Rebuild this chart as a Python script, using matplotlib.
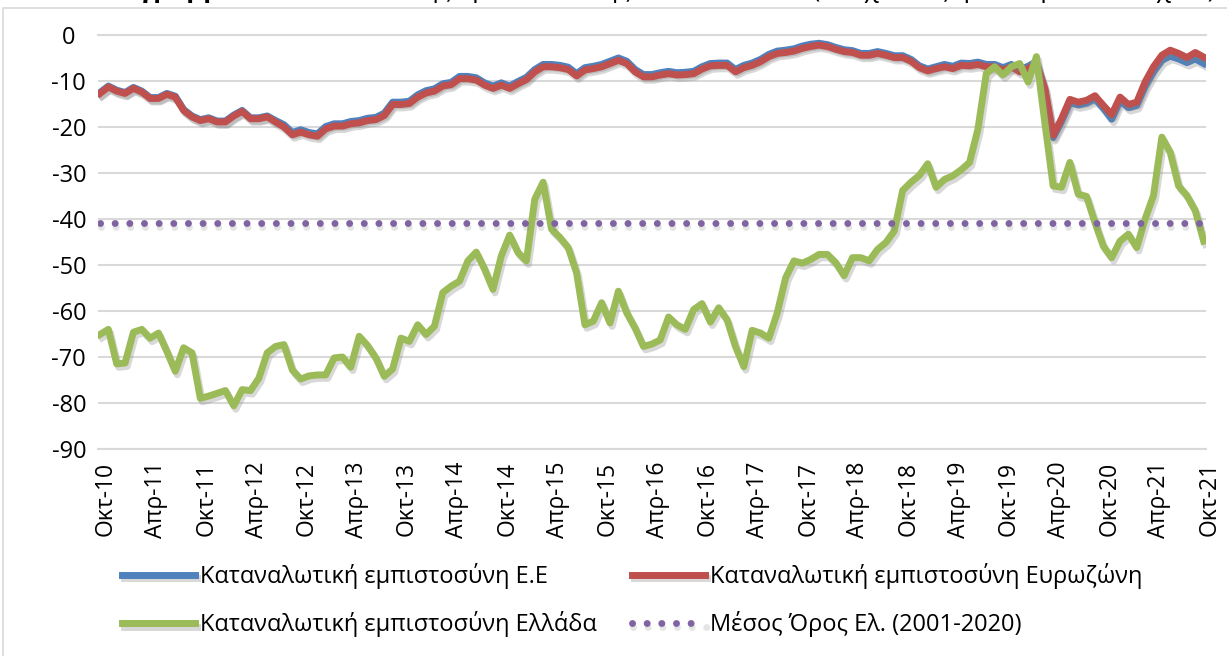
import matplotlib
matplotlib.use("Agg")
import matplotlib.pyplot as plt
import matplotlib.patheffects as pe
import matplotlib.transforms as mtrans
from matplotlib.patches import Rectangle
import numpy as np

plt.rcParams['font.family'] = ['Open Sans', 'DejaVu Sans']

# monthly values, Oct-2010 .. Oct-2021
eu = [
    -12.5, -11.1, -12.0, -12.5, -11.4, -12.2, -13.6, -13.6, -12.7, -13.3, -16.2, -17.6,
    -18.4, -18.0, -18.7, -18.7, -17.4, -16.4, -18.0, -18.0, -17.6, -18.6, -19.5, -21.2,
    -20.6, -21.2, -21.5, -19.9, -19.3, -19.3, -18.8, -18.6, -18.1, -17.9, -17.0, -14.6,
    -14.6, -14.4, -13.0, -12.1, -11.7, -10.6, -10.3, -9.0, -9.0, -9.3, -10.4, -11.1,
    -10.4, -11.1, -10.1, -9.2, -7.5, -6.4, -6.4, -6.6, -7.0, -8.4, -7.1, -6.8,
    -6.4, -5.7, -5.0, -5.7, -7.5, -8.6, -8.6, -8.2, -7.9, -8.2, -8.1, -7.9,
    -6.9, -6.2, -6.1, -6.1, -7.5, -6.6, -6.1, -5.3, -4.2, -3.5, -3.3, -3.0,
    -2.4, -2.0, -1.8, -2.1, -2.7, -3.2, -3.4, -4.0, -4.0, -3.6, -4.0, -4.5,
    -4.5, -5.3, -6.7, -7.4, -6.9, -6.4, -6.8, -6.1, -6.2, -5.9, -6.4, -6.4,
    -7.1, -6.4, -7.5, -6.8, -5.8, -11.9, -22.3, -18.8, -14.7, -15.2, -14.8, -13.9,
    -15.9, -18.3, -14.3, -15.8, -15.3, -11.2, -8.0, -5.5, -4.6, -5.2, -6.0, -5.2, -6.2,
]
eurozone = [
    -12.7, -11.3, -12.2, -12.7, -11.6, -12.4, -13.8, -13.8, -12.9, -13.5, -16.4, -17.8,
    -18.6, -18.2, -18.9, -18.9, -17.6, -16.6, -18.2, -18.2, -17.8, -18.9, -20.0, -21.7,
    -21.1, -21.7, -22.0, -20.4, -19.8, -19.8, -19.3, -19.1, -18.6, -18.4, -17.5, -15.1,
    -15.1, -14.9, -13.5, -12.6, -12.2, -11.1, -10.8, -9.5, -9.5, -9.8, -10.9, -11.6,
    -10.9, -11.6, -10.6, -9.7, -8.0, -6.9, -6.9, -7.1, -7.5, -8.9, -7.6, -7.3,
    -6.9, -6.2, -5.5, -6.2, -8.0, -9.1, -9.1, -8.7, -8.4, -8.7, -8.6, -8.4,
    -7.4, -6.7, -6.6, -6.6, -8.0, -7.1, -6.6, -5.8, -4.7, -4.0, -3.8, -3.5,
    -2.9, -2.5, -2.2, -2.5, -3.1, -3.6, -3.8, -4.4, -4.4, -4.0, -4.4, -4.9,
    -4.9, -5.7, -7.1, -7.8, -7.3, -6.9, -7.3, -6.6, -6.7, -6.4, -6.9, -6.9,
    -7.6, -6.9, -8.0, -7.3, -6.2, -11.6, -21.8, -18.2, -14.0, -14.6, -14.2, -13.2,
    -15.3, -17.3, -13.5, -15.1, -14.6, -10.2, -6.9, -4.4, -3.3, -4.0, -4.9, -3.8, -4.8,
]
greece = [
    -65.1, -64.0, -71.5, -71.3, -64.6, -64.0, -65.9, -64.8, -68.8, -73.1, -68.0, -69.1,
    -79.0, -78.5, -77.9, -77.3, -80.6, -77.1, -77.3, -74.6, -69.1, -67.7, -67.3, -72.8,
    -74.8, -74.1, -73.9, -73.9, -70.2, -70.0, -72.2, -65.5, -67.5, -70.2, -74.2, -72.6,
    -65.9, -66.6, -63.0, -65.1, -63.3, -56.0, -54.6, -53.5, -49.1, -47.2, -50.9, -55.3,
    -48.0, -43.5, -47.3, -49.1, -35.7, -32.0, -42.2, -44.0, -46.2, -51.7, -63.0, -62.2,
    -58.2, -62.6, -55.7, -60.4, -63.7, -67.7, -67.2, -66.3, -61.3, -63.0, -64.0, -59.7,
    -58.4, -62.4, -59.3, -61.9, -67.7, -72.1, -64.2, -64.8, -65.9, -60.4, -52.8, -49.1,
    -49.6, -48.8, -47.7, -47.7, -49.5, -52.3, -48.4, -48.4, -49.1, -46.6, -45.1, -42.6,
    -33.8, -32.0, -30.5, -28.0, -33.1, -31.4, -30.6, -29.3, -27.7, -20.5, -8.4, -6.9,
    -8.7, -6.9, -6.2, -10.2, -4.7, -19.0, -32.8, -33.1, -27.7, -34.6, -35.1, -40.8,
    -45.9, -48.4, -44.8, -43.3, -46.2, -40.0, -34.9, -22.2, -25.5, -32.8, -34.9, -38.2, -44.8,
]
greece_mean = -40.9  # Μέσος Όρος Ελ. (2001-2020)

tick_labels = [
    "Οκτ-10", "Απρ-11", "Οκτ-11", "Απρ-12", "Οκτ-12", "Απρ-13", "Οκτ-13", "Απρ-14",
    "Οκτ-14", "Απρ-15", "Οκτ-15", "Απρ-16", "Οκτ-16", "Απρ-17", "Οκτ-17", "Απρ-18",
    "Οκτ-18", "Απρ-19", "Οκτ-19", "Απρ-20", "Οκτ-20", "Απρ-21", "Οκτ-21",
]
labels = [
    "Καταναλωτική εμπιστοσύνη Ε.Ε",
    "Καταναλωτική εμπιστοσύνη Ευρωζώνη",
    "Καταναλωτική εμπιστοσύνη Ελλάδα",
    "Μέσος Όρος Ελ. (2001-2020)",
]

W, H = 1227, 656
fig = plt.figure(figsize=(W / 100, H / 100), dpi=100)
ax = fig.add_axes([98 / W, 1 - 449 / H, (1206 - 98) / W, (449 - 35) / H])

x = np.arange(len(greece))
shadow = [pe.SimpleLineShadow(offset=(1.5, -2.5), shadow_color='0.5', alpha=0.3), pe.Normal()]
dot_shadow = [pe.SimpleLineShadow(offset=(1.0, -2.5), shadow_color='0.5', alpha=0.2), pe.Normal()]

l_eu, = ax.plot(x, eu, color='#4F81BD', lw=5, solid_joinstyle='round', path_effects=shadow)
l_ez, = ax.plot(x, eurozone, color='#C0504D', lw=5, solid_joinstyle='round', path_effects=shadow)
l_gr, = ax.plot(x, greece, color='#9BBB59', lw=5, solid_joinstyle='round', path_effects=shadow)
l_mn, = ax.plot(x, [greece_mean] * len(x), color='#8064A2', lw=5, linestyle=(0, (0.01, 2.1)),
                dash_capstyle='round', path_effects=dot_shadow)

ax.set_xlim(-0.24, 132.28)
ax.set_ylim(-90, 0)
ax.set_yticks(np.arange(-90, 1, 10))
ax.set_yticklabels([str(v) for v in range(-90, 1, 10)], ha='center')
ax.set_xticks(np.arange(0, len(x), 6))
ax.set_xticklabels(tick_labels, rotation=90)
ax.tick_params(axis='y', length=0, pad=21, labelsize=17)
ax.tick_params(axis='x', length=0, pad=9, labelsize=16.5)
shift = mtrans.ScaledTranslation(6 / 100, 0, fig.dpi_scale_trans)
for lab in ax.get_xticklabels():
    lab.set_transform(lab.get_transform() + shift)
ax.yaxis.grid(True, color='#D9D9D9', lw=1.5)
ax.set_axisbelow(True)
for s in ['left', 'right']:
    ax.spines[s].set_visible(False)
for s in ['top', 'bottom']:
    ax.spines[s].set_color('#D9D9D9')
    ax.spines[s].set_linewidth(1.5)

leg_kw = dict(loc='upper left', bbox_transform=fig.transFigure, frameon=False, fontsize=17,
              handlelength=3.1, handletextpad=0.22, labelspacing=0.95,
              borderpad=0, borderaxespad=0)
leg1 = ax.legend([l_eu, l_gr], [labels[0], labels[2]], bbox_to_anchor=(122 / W, 1 - 563 / H), **leg_kw)
ax.add_artist(leg1)
ax.legend([l_ez, l_mn], [labels[1], labels[3]], bbox_to_anchor=(632 / W, 1 - 563 / H), **leg_kw)

# chart frame and the cut-off caption above it (the original crop shows only its lower edge)
fig.patches.append(Rectangle((3 / W, -0.05), 1.1, 1 - 8 / H + 0.05, transform=fig.transFigure,
                             fill=False, edgecolor='#D9D9D9', lw=1.2))
fig.text(95 / W, 1 + 3 / H, "Διάγραμμα 6:", fontsize=18.5, fontweight='bold', va='baseline')
fig.text(1215 / W, 1 + 3 / H, "Δείκτης Εμπιστοσύνης Καταναλωτών (εποχικά εξομαλυσμένα στοιχεία)",
         fontsize=18.5, va='baseline', ha='right')

fig.savefig("out.png", dpi=100)
